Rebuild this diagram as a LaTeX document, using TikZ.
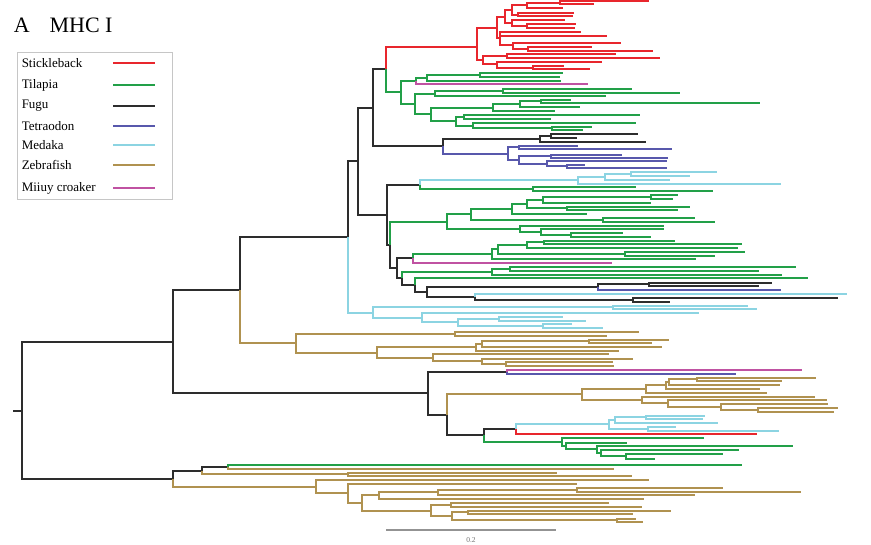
\documentclass[tikz,border=0pt]{standalone}
\usepackage{fontspec}
\setmainfont{Liberation Serif}
\definecolor{stick}{RGB}{232,38,45}
\definecolor{tila}{RGB}{34,160,72}
\definecolor{fugu}{RGB}{45,45,45}
\definecolor{tetra}{RGB}{88,88,172}
\definecolor{medaka}{RGB}{140,212,226}
\definecolor{zebra}{RGB}{176,146,80}
\definecolor{miiuy}{RGB}{192,82,162}
\newcommand{\arm}[3]{\draw[#1] (#2) |- (#3);}
\newcommand{\tip}[4]{\draw[#1] (#2) |- (#4,#3);}

\begin{document}
\begin{tikzpicture}[x=1pt,y=-1pt,line width=1.5pt,
					stk/.style={draw=stick},
					tlp/.style={draw=tila},
					fgu/.style={draw=fugu},
					ttd/.style={draw=tetra},
					mdk/.style={draw=medaka},
					zbf/.style={draw=zebra},
					mcr/.style={draw=miiuy},
					]
	\useasboundingbox (0,0) rectangle (871,545);
	\node[anchor=base west,font=\fontsize{22}{24}\selectfont,inner sep=0pt] (title) at (13,33) {A\hspace{20pt}MHC I};
	% legend
	\draw[gray!45,line width=0.9pt] (17,52) rectangle (172,199);
	\foreach \name/\col/\y in {Stickleback/stk/63,Tilapia/tlp/85,Fugu/fgu/106,Tetraodon/ttd/126,Medaka/mdk/145,Zebrafish/zbf/165,Miiuy croaker/mcr/188}{
		\node[anchor=west,font=\fontsize{13}{15}\selectfont,inner sep=0pt] (key\y) at (21,\y) {\name};
		\draw[\col] (113,\y) -- (155,\y);
	}
	% backbone
	\coordinate (rootstub) at (13,411);
	\coordinate (root) at (22,411);
	\coordinate (up) at (173,342);
	\coordinate (lo) at (173,479);
	\coordinate (n240) at (240,290);
	\coordinate (n428) at (428,393);
	\coordinate (n348) at (348,237);
	\coordinate (n358) at (358,161);
	\coordinate (n373) at (373,108);
	\coordinate (n386) at (386,69);
	\coordinate (n387) at (387,215);
	\coordinate (n390) at (390,245);
	\coordinate (n397) at (397,268);
	\draw[fgu] (rootstub) -- (root);
	\arm{fgu}{root}{up} \arm{fgu}{root}{lo}
	\arm{fgu}{up}{n240} \arm{fgu}{up}{n428}
	\arm{fgu}{n240}{n348}
	\arm{fgu}{n348}{n358}
	\arm{fgu}{n358}{n373} \arm{fgu}{n358}{n387}
	\arm{fgu}{n373}{n386}
	\arm{fgu}{n387}{n390}
	\arm{fgu}{n390}{n397}
	% stickleback
	\coordinate (s1) at (477,47);
	\coordinate (s2) at (497,28);
	\coordinate (s3) at (505,17);
	\coordinate (s4) at (512,10);
	\coordinate (s5) at (527,5);
	\coordinate (s6) at (560,3);
	\coordinate (s7) at (518,15);
	\coordinate (s8) at (512,23);
	\coordinate (s9) at (527,26);
	\coordinate (s10) at (500,38);
	\coordinate (s11) at (513,45);
	\coordinate (s12) at (528,49);
	\coordinate (s13) at (483,60);
	\coordinate (s14) at (507,56);
	\coordinate (s15) at (497,64);
	\coordinate (s16) at (533,68);
	\arm{stk}{n386}{s1}
	\arm{stk}{s1}{s2} \arm{stk}{s2}{s3} \arm{stk}{s3}{s4} \arm{stk}{s4}{s5} \arm{stk}{s5}{s6}
	\tip{stk}{s6}{1}{649} \tip{stk}{s6}{4}{594} \tip{stk}{s5}{8}{563}
	\arm{stk}{s4}{s7} \tip{stk}{s7}{13}{574} \tip{stk}{s7}{16}{573}
	\arm{stk}{s3}{s8} \tip{stk}{s8}{20}{565}
	\arm{stk}{s8}{s9} \tip{stk}{s9}{24}{576} \tip{stk}{s9}{28}{575}
	\arm{stk}{s2}{s10} \tip{stk}{s10}{32}{581} \tip{stk}{s10}{36}{607}
	\arm{stk}{s10}{s11} \tip{stk}{s11}{43}{621}
	\arm{stk}{s11}{s12} \tip{stk}{s12}{47}{592} \tip{stk}{s12}{51}{653}
	\arm{stk}{s1}{s13}
	\arm{stk}{s13}{s14} \tip{stk}{s14}{54}{616} \tip{stk}{s14}{58}{660}
	\arm{stk}{s13}{s15} \tip{stk}{s15}{62}{602}
	\arm{stk}{s15}{s16} \tip{stk}{s16}{66}{564} \tip{stk}{s16}{69}{590}
	% tilapia, upper
	\coordinate (t1) at (401,92);
	\coordinate (t2) at (416,81);
	\coordinate (t3) at (427,78);
	\coordinate (t4) at (480,75);
	\coordinate (t5) at (415,104);
	\coordinate (t6) at (435,94);
	\coordinate (t7) at (503,91);
	\coordinate (t8) at (431,114);
	\coordinate (t9) at (493,108);
	\coordinate (t10) at (520,104);
	\coordinate (t11) at (541,101);
	\coordinate (t12) at (456,121);
	\coordinate (t13) at (464,117);
	\coordinate (t14) at (473,126);
	\coordinate (t15) at (552,128);
	\arm{tlp}{n386}{t1}
	\arm{tlp}{t1}{t2} \arm{tlp}{t2}{t3} \tip{tlp}{t3}{81}{561}
	\arm{tlp}{t3}{t4} \tip{tlp}{t4}{73}{563} \tip{tlp}{t4}{77}{560}
	\tip{mcr}{t2}{84}{588}
	\arm{tlp}{t1}{t5} \arm{tlp}{t5}{t6} \tip{tlp}{t6}{96}{606}
	\arm{tlp}{t6}{t7} \tip{tlp}{t7}{89}{632} \tip{tlp}{t7}{93}{680}
	\arm{tlp}{t5}{t8} \arm{tlp}{t8}{t9} \tip{tlp}{t9}{111}{555}
	\arm{tlp}{t9}{t10} \tip{tlp}{t10}{107}{580}
	\arm{tlp}{t10}{t11} \tip{tlp}{t11}{100}{571} \tip{tlp}{t11}{103}{760}
	\arm{tlp}{t8}{t12} \arm{tlp}{t12}{t13} \tip{tlp}{t13}{115}{640} \tip{tlp}{t13}{119}{551}
	\arm{tlp}{t12}{t14} \tip{tlp}{t14}{123}{636}
	\arm{tlp}{t14}{t15} \tip{tlp}{t15}{127}{592} \tip{tlp}{t15}{130}{583}
	% fugu and tetraodon
	\coordinate (f1) at (443,146);
	\coordinate (f2) at (540,139);
	\coordinate (f3) at (551,136);
	\coordinate (d1) at (508,154);
	\coordinate (d2) at (519,147);
	\coordinate (d3) at (519,160);
	\coordinate (d4) at (551,156);
	\coordinate (d5) at (547,164);
	\coordinate (d6) at (567,166);
	\arm{fgu}{n373}{f1}
	\arm{fgu}{f1}{f2} \tip{fgu}{f2}{142}{646}
	\arm{fgu}{f2}{f3} \tip{fgu}{f3}{134}{638} \tip{fgu}{f3}{138}{577}
	\arm{ttd}{f1}{d1} \arm{ttd}{d1}{d2} \tip{ttd}{d2}{146}{578} \tip{ttd}{d2}{149}{672}
	\arm{ttd}{d1}{d3} \arm{ttd}{d3}{d4} \tip{ttd}{d4}{155}{622} \tip{ttd}{d4}{158}{668}
	\arm{ttd}{d3}{d5} \tip{ttd}{d5}{161}{667}
	\arm{ttd}{d5}{d6} \tip{ttd}{d6}{165}{585} \tip{ttd}{d6}{168}{667}
	% medaka and tilapia, middle
	\coordinate (m1) at (420,185);
	\coordinate (m2) at (578,180);
	\coordinate (m3) at (605,177);
	\coordinate (m4) at (631,174);
	\coordinate (g1) at (533,189);
	\arm{fgu}{n387}{m1}
	\arm{mdk}{m1}{m2} \tip{mdk}{m2}{184}{781}
	\arm{mdk}{m2}{m3} \tip{mdk}{m3}{180}{670}
	\arm{mdk}{m3}{m4} \tip{mdk}{m4}{172}{717} \tip{mdk}{m4}{176}{690}
	\arm{tlp}{m1}{g1} \tip{tlp}{g1}{187}{636} \tip{tlp}{g1}{191}{713}
	\coordinate (g2) at (447,222);
	\coordinate (g3) at (471,214);
	\coordinate (g4) at (512,209);
	\coordinate (g5) at (527,204);
	\coordinate (g6) at (543,200);
	\coordinate (g7) at (651,197);
	\coordinate (g8) at (567,208);
	\coordinate (g9) at (603,220);
	\coordinate (g10) at (520,229);
	\coordinate (g11) at (541,232);
	\coordinate (g12) at (571,235);
	\arm{tlp}{n390}{g2}
	\arm{tlp}{g2}{g3} \arm{tlp}{g3}{g4} \tip{tlp}{g4}{214}{587}
	\arm{tlp}{g4}{g5} \arm{tlp}{g5}{g6} \tip{tlp}{g6}{203}{651}
	\arm{tlp}{g6}{g7} \tip{tlp}{g7}{195}{678} \tip{tlp}{g7}{199}{673}
	\arm{tlp}{g5}{g8} \tip{tlp}{g8}{207}{690} \tip{tlp}{g8}{210}{678}
	\arm{tlp}{g3}{g9} \tip{tlp}{g9}{218}{695} \tip{tlp}{g9}{222}{715}
	\arm{tlp}{g2}{g10} \tip{tlp}{g10}{226}{664}
	\arm{tlp}{g10}{g11} \tip{tlp}{g11}{229}{664}
	\arm{tlp}{g11}{g12} \tip{tlp}{g12}{233}{623} \tip{tlp}{g12}{237}{651}
	\coordinate (g13) at (413,258);
	\coordinate (g14) at (492,254);
	\coordinate (g15) at (498,249);
	\coordinate (g16) at (527,245);
	\coordinate (g17) at (544,242);
	\coordinate (g18) at (625,254);
	\coordinate (g19) at (402,278);
	\coordinate (g20) at (492,272);
	\coordinate (g21) at (510,269);
	\coordinate (g22) at (415,285);
	\coordinate (g23) at (427,292);
	\coordinate (k1) at (598,287);
	\coordinate (k2) at (649,284);
	\coordinate (k3) at (475,297);
	\coordinate (k4) at (633,300);
	\arm{fgu}{n397}{g13} \tip{mcr}{g13}{263}{612}
	\arm{tlp}{g13}{g14} \tip{tlp}{g14}{259}{696}
	\arm{tlp}{g14}{g15} \arm{tlp}{g15}{g16} \tip{tlp}{g16}{248}{738}
	\arm{tlp}{g16}{g17} \tip{tlp}{g17}{241}{675} \tip{tlp}{g17}{244}{742}
	\arm{tlp}{g15}{g18} \tip{tlp}{g18}{252}{745} \tip{tlp}{g18}{256}{715}
	\arm{fgu}{n397}{g19}
	\arm{tlp}{g19}{g20} \tip{tlp}{g20}{275}{782}
	\arm{tlp}{g20}{g21} \tip{tlp}{g21}{267}{796} \tip{tlp}{g21}{271}{759}
	\arm{fgu}{g19}{g22} \tip{tlp}{g22}{278}{808}
	\arm{fgu}{g22}{g23}
	\arm{fgu}{g23}{k1} \tip{ttd}{k1}{290}{781}
	\arm{fgu}{k1}{k2} \tip{fgu}{k2}{283}{772} \tip{fgu}{k2}{286}{759}
	\arm{fgu}{g23}{k3} \tip{mdk}{k3}{294}{847}
	\arm{fgu}{k3}{k4} \tip{fgu}{k4}{298}{838} \tip{fgu}{k4}{302}{670}
	% medaka, lower
	\coordinate (c1) at (373,313);
	\coordinate (c2) at (613,307);
	\coordinate (c3) at (422,318);
	\coordinate (c4) at (458,322);
	\coordinate (c5) at (499,319);
	\coordinate (c6) at (543,326);
	\arm{mdk}{n348}{c1}
	\arm{mdk}{c1}{c2} \tip{mdk}{c2}{306}{748} \tip{mdk}{c2}{309}{757}
	\arm{mdk}{c1}{c3} \tip{mdk}{c3}{313}{699}
	\arm{mdk}{c3}{c4} \arm{mdk}{c4}{c5} \tip{mdk}{c5}{317}{563} \tip{mdk}{c5}{321}{586}
	\arm{mdk}{c4}{c6} \tip{mdk}{c6}{324}{572} \tip{mdk}{c6}{328}{603}
	% zebrafish, upper
	\coordinate (z1) at (296,343);
	\coordinate (z2) at (455,334);
	\coordinate (z3) at (377,353);
	\coordinate (z4) at (476,347);
	\coordinate (z5) at (482,344);
	\coordinate (z6) at (589,341);
	\coordinate (z7) at (433,358);
	\coordinate (z8) at (482,361);
	\coordinate (z9) at (506,364);
	\arm{zbf}{n240}{z1}
	\arm{zbf}{z1}{z2} \tip{zbf}{z2}{332}{639} \tip{zbf}{z2}{336}{607}
	\arm{zbf}{z1}{z3} \arm{zbf}{z3}{z4} \tip{zbf}{z4}{351}{619}
	\arm{zbf}{z4}{z5} \tip{zbf}{z5}{347}{662}
	\arm{zbf}{z5}{z6} \tip{zbf}{z6}{340}{669} \tip{zbf}{z6}{343}{652}
	\arm{zbf}{z3}{z7} \tip{zbf}{z7}{354}{609}
	\arm{zbf}{z7}{z8} \tip{zbf}{z8}{359}{633}
	\arm{zbf}{z8}{z9} \tip{zbf}{z9}{362}{613} \tip{zbf}{z9}{366}{614}
	% lower middle clade
	\coordinate (w1) at (507,372);
	\coordinate (w2) at (447,415);
	\coordinate (w3) at (484,435);
	\coordinate (w4) at (516,429);
	\arm{fgu}{n428}{w1} \tip{mcr}{w1}{370}{802} \tip{ttd}{w1}{374}{736}
	\arm{fgu}{n428}{w2}
	\coordinate (z10) at (582,394);
	\coordinate (z11) at (646,389);
	\coordinate (z12) at (666,385);
	\coordinate (z13) at (669,382);
	\coordinate (z14) at (697,379);
	\coordinate (z15) at (642,400);
	\coordinate (z16) at (668,403);
	\coordinate (z17) at (721,407);
	\coordinate (z18) at (758,410);
	\arm{zbf}{w2}{z10}
	\arm{zbf}{z10}{z11} \tip{zbf}{z11}{393}{767}
	\arm{zbf}{z11}{z12} \tip{zbf}{z12}{389}{760}
	\arm{zbf}{z12}{z13} \tip{zbf}{z13}{385}{780}
	\arm{zbf}{z13}{z14} \tip{zbf}{z14}{378}{816} \tip{zbf}{z14}{381}{782}
	\arm{zbf}{z10}{z15} \tip{zbf}{z15}{397}{815}
	\arm{zbf}{z15}{z16} \tip{zbf}{z16}{400}{827}
	\arm{zbf}{z16}{z17} \tip{zbf}{z17}{404}{828}
	\arm{zbf}{z17}{z18} \tip{zbf}{z18}{408}{838} \tip{zbf}{z18}{412}{834}
	\coordinate (c7) at (609,424);
	\coordinate (c8) at (615,420);
	\coordinate (c9) at (646,417);
	\coordinate (c10) at (648,429);
	\arm{fgu}{w2}{w3}
	\arm{fgu}{w3}{w4} \tip{stk}{w4}{434}{757}
	\arm{mdk}{w4}{c7} \arm{mdk}{c7}{c8} \tip{mdk}{c8}{423}{718}
	\arm{mdk}{c8}{c9} \tip{mdk}{c9}{416}{705} \tip{mdk}{c9}{419}{703}
	\arm{mdk}{c7}{c10} \tip{mdk}{c10}{427}{676} \tip{mdk}{c10}{431}{779}
	\coordinate (g24) at (562,442);
	\coordinate (g25) at (566,446);
	\coordinate (g26) at (597,449);
	\coordinate (g27) at (601,453);
	\coordinate (g28) at (626,456);
	\arm{tlp}{w3}{g24} \tip{tlp}{g24}{438}{704}
	\arm{tlp}{g24}{g25} \tip{tlp}{g25}{443}{627}
	\arm{tlp}{g25}{g26} \tip{tlp}{g26}{446}{793}
	\arm{tlp}{g26}{g27} \tip{tlp}{g27}{450}{739}
	\arm{tlp}{g27}{g28} \tip{tlp}{g28}{454}{723} \tip{tlp}{g28}{459}{655}
	% zebrafish, bottom
	\coordinate (b1) at (202,471);
	\coordinate (b2) at (228,467);
	\coordinate (b3) at (348,474);
	\coordinate (b4) at (316,487);
	\coordinate (b5) at (348,493);
	\coordinate (b6) at (362,503);
	\coordinate (b7) at (379,495);
	\coordinate (b8) at (438,492);
	\coordinate (b9) at (577,490);
	\coordinate (b10) at (431,511);
	\coordinate (b11) at (451,505);
	\coordinate (b12) at (452,516);
	\coordinate (b13) at (468,512);
	\coordinate (b14) at (617,520);
	\arm{fgu}{lo}{b1}
	\arm{fgu}{b1}{b2} \tip{tlp}{b2}{465}{742} \tip{zbf}{b2}{469}{614}
	\arm{zbf}{b1}{b3} \tip{zbf}{b3}{473}{557} \tip{zbf}{b3}{476}{632}
	\arm{zbf}{lo}{b4} \tip{zbf}{b4}{480}{649}
	\arm{zbf}{b4}{b5} \tip{zbf}{b5}{484}{577}
	\arm{zbf}{b5}{b6} \arm{zbf}{b6}{b7} \tip{zbf}{b7}{499}{644}
	\arm{zbf}{b7}{b8} \tip{zbf}{b8}{495}{695}
	\arm{zbf}{b8}{b9} \tip{zbf}{b9}{488}{723} \tip{zbf}{b9}{492}{801}
	\arm{zbf}{b6}{b10} \arm{zbf}{b10}{b11} \tip{zbf}{b11}{503}{609} \tip{zbf}{b11}{507}{642}
	\arm{zbf}{b10}{b12} \arm{zbf}{b12}{b13} \tip{zbf}{b13}{511}{671} \tip{zbf}{b13}{514}{633}
	\arm{zbf}{b12}{b14} \tip{zbf}{b14}{519}{636} \tip{zbf}{b14}{522}{643}
	% scale bar
	\coordinate (bar0) at (386,530);
	\coordinate (bar1) at (556,530);
	\draw[gray!85,line width=1.4pt] (bar0) -- (bar1);
	\node[font=\fontsize{7.5}{9}\selectfont,text=gray!90!black,inner sep=0pt] (barlabel) at (471,540) {0.2};
\end{tikzpicture}
\end{document}
